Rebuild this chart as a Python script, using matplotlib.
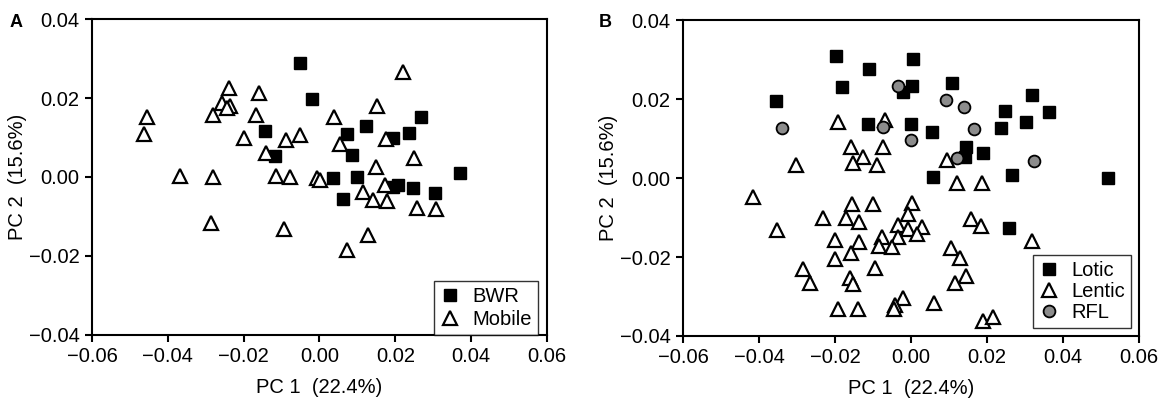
import numpy as np
import matplotlib
matplotlib.use("Agg")
import matplotlib.pyplot as plt

plt.rcParams["font.family"] = ["Liberation Sans", "DejaVu Sans"]

# Panel A: BWR vs Mobile
bwr_x = [-0.0051, -0.0020, -0.0144, -0.0117, 0.0268, 0.0124, 0.0072, 0.0193, 0.0235,
         0.0087, 0.0371, 0.0036, 0.0098, 0.0061, 0.0194, 0.0206, 0.0246, 0.0304]
bwr_y = [0.0289, 0.0197, 0.0116, 0.0053, 0.0151, 0.0129, 0.0109, 0.0100, 0.0111,
         0.0056, 0.0009, -0.0003, 0.0001, -0.0056, -0.0026, -0.0020, -0.0029, -0.0040]

mob_x = [-0.0239, -0.0160, -0.0456, -0.0463, -0.0258, -0.0236, -0.0245, -0.0280, -0.0168,
         -0.0198, -0.0141, -0.0088, -0.0051, -0.0368, -0.0282, -0.0115, -0.0078, -0.0006,
         -0.0287, -0.0094, 0.0219, 0.0153, 0.0039, 0.0054, 0.0175, 0.0249, 0.0149,
         0.0001, 0.0115, 0.0140, 0.0173, 0.0177, 0.0256, 0.0308, 0.0129, 0.0072]
mob_y = [0.0225, 0.0212, 0.0153, 0.0109, 0.0188, 0.0180, 0.0174, 0.0157, 0.0157,
         0.0098, 0.0062, 0.0094, 0.0106, 0.0003, 0.0001, 0.0003, 0.0001, -0.0003,
         -0.0117, -0.0132, 0.0267, 0.0180, 0.0151, 0.0084, 0.0096, 0.0049, 0.0026,
         -0.0007, -0.0037, -0.0058, -0.0020, -0.0062, -0.0079, -0.0082, -0.0147, -0.0185]

# Panel B: Lotic, Lentic, RFL
lot_x = [-0.0355, -0.0197, -0.0182, -0.0111, -0.0114, 0.0005, 0.0002, -0.0022, 0.0109,
         0.0318, 0.0247, 0.0364, 0.0302, 0.0236, 0.0000, 0.0054, 0.0145, 0.0142,
         0.0190, 0.0059, 0.0267, 0.0519, 0.0258]
lot_y = [0.0196, 0.0310, 0.0231, 0.0275, 0.0138, 0.0301, 0.0233, 0.0218, 0.0241,
         0.0210, 0.0170, 0.0166, 0.0141, 0.0126, 0.0138, 0.0116, 0.0079, 0.0054,
         0.0063, 0.0003, 0.0008, -0.0001, -0.0127]

len_x = [-0.0193, -0.0068, -0.0159, -0.0073, -0.0127, -0.0152, -0.0090, -0.0303,
         0.0094, 0.0120, 0.0188,
         0.0003, -0.0007, -0.0033, -0.0007, 0.0028, 0.0015, -0.0033, -0.0051, -0.0077,
         0.0157, 0.0183, 0.0319, 0.0105, 0.0129, 0.0144, 0.0116, 0.0061, -0.0022,
         -0.0042, -0.0045, 0.0189, 0.0215,
         -0.0415, -0.0353, -0.0232, -0.0155, -0.0101, -0.0170, -0.0137, -0.0200,
         -0.0137, -0.0158, -0.0200, -0.0084, -0.0284, -0.0266, -0.0095, -0.0160,
         -0.0152, -0.0191, -0.0139]
len_y = [0.0143, 0.0147, 0.0079, 0.0079, 0.0054, 0.0039, 0.0033, 0.0033,
         0.0046, -0.0012, -0.0012,
         -0.0064, -0.0092, -0.0119, -0.0130, -0.0123, -0.0142, -0.0149, -0.0174, -0.0149,
         -0.0105, -0.0122, -0.0160, -0.0178, -0.0202, -0.0248, -0.0265, -0.0317, -0.0303,
         -0.0322, -0.0332, -0.0362, -0.0351,
         -0.0047, -0.0132, -0.0102, -0.0067, -0.0067, -0.0102, -0.0111, -0.0157,
         -0.0161, -0.0191, -0.0206, -0.0172, -0.0231, -0.0267, -0.0227, -0.0254,
         -0.0268, -0.0332, -0.0332]

rfl_x = [-0.0339, -0.0073, -0.0033, 0.0092, 0.0140, 0.0167, 0.0000, 0.0120, 0.0324]
rfl_y = [0.0126, 0.0130, 0.0233, 0.0197, 0.0181, 0.0123, 0.0096, 0.0051, 0.0044]

ticks_x = [-0.06, -0.04, -0.02, 0.00, 0.02, 0.04, 0.06]
ticks_y = [-0.04, -0.02, 0.00, 0.02, 0.04]

fs = 14.5


def fmt(t):
    return ("%.2f" % t).replace("-", "\u2212")


fig = plt.figure(figsize=(11.67, 4.09), dpi=100)
axA = fig.add_axes([0.0788, 0.181, 0.3899, 0.7725])
axB = fig.add_axes([0.5853, 0.1785, 0.3907, 0.7725])

sq = dict(ls="none", marker="s", ms=9, mfc="black", mec="black", mew=1)
tri = dict(ls="none", marker="^", ms=10.5, mfc="white", mec="black", mew=1.6)
circ = dict(ls="none", marker="o", ms=8.5, mfc="#8c8c8c", mec="black", mew=1.3)

axA.plot(bwr_x, bwr_y, label="BWR", **sq)
axA.plot(mob_x, mob_y, label="Mobile", **tri)

axB.plot(lot_x, lot_y, label="Lotic", **sq)
axB.plot(len_x, len_y, label="Lentic", **tri)
axB.plot(rfl_x, rfl_y, label="RFL", **circ)

for ax in (axA, axB):
    ax.set_xlim(-0.06, 0.06)
    ax.set_ylim(-0.04, 0.04)
    ax.set_xticks(ticks_x)
    ax.set_yticks(ticks_y)
    ax.set_xticklabels([fmt(t) for t in ticks_x])
    ax.set_yticklabels([fmt(t) for t in ticks_y])
    ax.tick_params(direction="out", length=5, width=1.5, labelsize=fs, pad=4,
                   top=False, right=False)
    for s in ax.spines.values():
        s.set_linewidth(1.5)
    ax.set_xlabel("PC 1  (22.4%)", fontsize=fs, labelpad=8)
    ax.set_ylabel("PC 2  (15.6%)", fontsize=fs, labelpad=1)

legA = axA.legend(loc="lower right", bbox_to_anchor=(0.98, 0.0), fontsize=fs,
                  frameon=True, fancybox=False, edgecolor="black", handlelength=1.0,
                  handletextpad=0.6, borderpad=0.3, labelspacing=0.2,
                  borderaxespad=0.0)
legA.get_frame().set_linewidth(1.0)
legB = axB.legend(loc="lower right", bbox_to_anchor=(0.983, 0.025), fontsize=fs,
                  frameon=True, fancybox=False, edgecolor="black", handlelength=1.0,
                  handletextpad=0.6, borderpad=0.3, labelspacing=0.1,
                  borderaxespad=0.0)
legB.get_frame().set_linewidth(1.0)

fig.text(0.008, 0.935, "A", fontsize=13, fontweight="bold")
fig.text(0.513, 0.935, "B", fontsize=13, fontweight="bold")

fig.savefig("out.png", dpi=100)
